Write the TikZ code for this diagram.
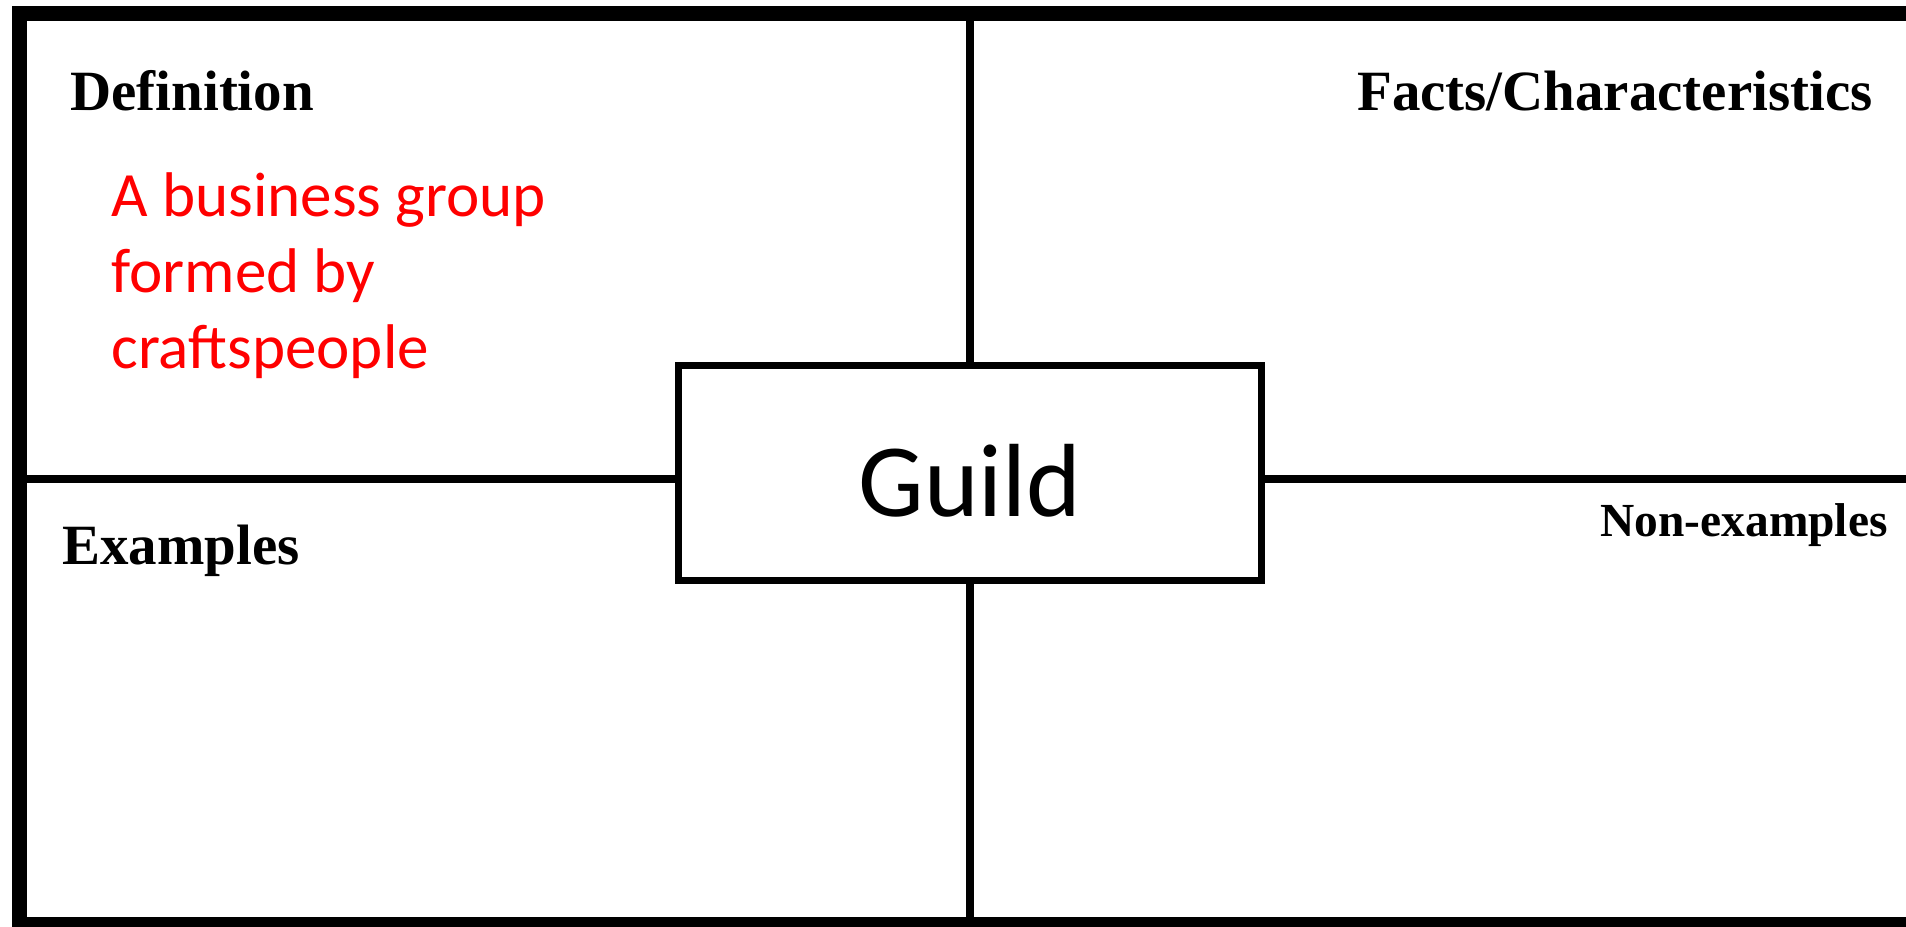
\documentclass[tikz,border=0pt]{standalone}
\usepackage{fontspec}
\setmainfont{Liberation Serif}
\newfontfamily\calibrifont{Carlito}
\usetikzlibrary{positioning,calc}
\definecolor{defred}{RGB}{255,0,0}

\begin{document}
\begin{tikzpicture}[x=0.2mm,y=-0.2mm]

	\tikzstyle{heading}=[inner sep=0pt, font=\fontsize{32.4}{38}\selectfont\bfseries];
	\tikzstyle{smallheading}=[inner sep=0pt, font=\fontsize{27}{32}\selectfont\bfseries];
	\tikzstyle{deftext}=[inner sep=0pt, align=left, text=defred, font=\calibrifont\fontsize{35.9}{43.5}\selectfont];
	\tikzstyle{gridline}=[line width=4.5pt];
	\tikzstyle{framebox}=[line width=8pt, line join=miter];
	\tikzstyle{termbox}=[draw, rectangle, line width=4.5pt, minimum width=116.6mm, minimum height=43mm, inner sep=0pt, text height=50pt, text depth=0pt, font=\calibrifont\fontsize{59.2}{70}\selectfont];

	\clip (0,0) rectangle (1906,927);
    \begin{scope}

    	% outer frame, right side runs off the page
    	\draw[framebox] (1930,13.5) -- (19.5,13.5) -- (19.5,924) -- (1930,924);

    	\node (guild) at (970,473) [termbox]{Guild};

    	\node (defn) at (70,111) [heading, anchor=base west]{Definition};
    	\node (facts) at (1873,111) [heading, anchor=base east]{Facts/Characteristics};
    	\node (exmpl) at (62,565) [heading, anchor=base west]{Examples};
    	\node (nonex) at (1888,537) [smallheading, anchor=base east]{Non-examples};
    	% base anchor sits on the last line here
    	\node (meaning) at (111,369) [deftext, anchor=base west]{A business group\\formed by\\craftspeople};

    	\coordinate (topmid) at (970,13.5);
    	\coordinate (botmid) at (970,924);
    	\coordinate (leftmid) at (19.5,479);
    	\coordinate (rightmid) at (1906,479);

    	\draw[gridline] (topmid) -- (guild.north);
    	\draw[gridline] (guild.south) -- (botmid);
    	\draw[gridline] (leftmid) -- (guild.west |- leftmid);
    	\draw[gridline] (guild.east |- rightmid) -- (rightmid);

    \end{scope}
\end{tikzpicture}
\end{document}
